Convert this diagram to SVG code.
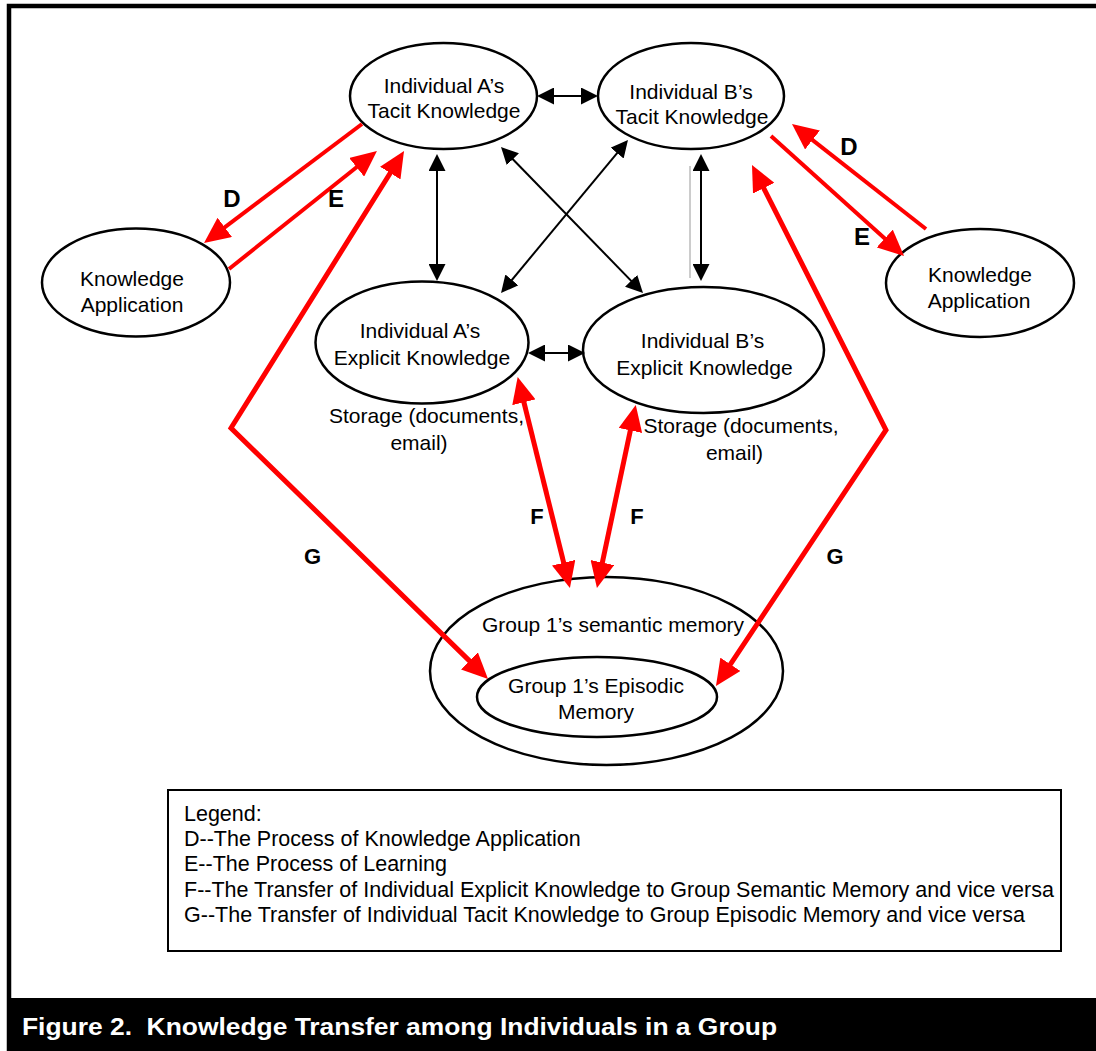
<svg xmlns="http://www.w3.org/2000/svg" width="1096" height="1051" viewBox="0 0 1096 1051">
<style>
  text { font-family: "Liberation Sans", Arial, sans-serif; fill: #000; }
  .node ellipse { fill: none; stroke: #000; stroke-width: 2.5; }
  .nt { font-size: 21px; text-anchor: middle; }
  .blk { stroke: #000; stroke-width: 2; fill: none; marker-start: url(#ab); marker-end: url(#ab); }
  .red { stroke: #ff0000; fill: none; stroke-linejoin: miter; }
  .thin { stroke-width: 4; }
  .thick { stroke-width: 5; }
  .lbl { font-size: 24px; font-weight: bold; text-anchor: middle; }
  .lbl2 { font-size: 22px; font-weight: bold; text-anchor: middle; }
  .leg { font-size: 21.5px; }
</style>
<defs>
  <marker id="ab" markerUnits="userSpaceOnUse" markerWidth="17" markerHeight="17" viewBox="0 0 17 17" refX="13" refY="8.5" orient="auto-start-reverse">
    <path d="M0,0 L17,8.5 L0,17 z" fill="#000"/>
  </marker>
  <marker id="ar" markerUnits="userSpaceOnUse" markerWidth="26" markerHeight="24" viewBox="0 0 26 24" refX="18" refY="12" orient="auto-start-reverse">
    <path d="M0,0 L26,12 L0,24 z" fill="#ff0000"/>
  </marker>
</defs>

<rect x="0" y="0" width="1096" height="1051" fill="#fff"/>
<path d="M9,1051 V6 H1100" fill="none" stroke="#000" stroke-width="4.5"/>

<g id="a-tacit" class="node">
  <ellipse cx="443.5" cy="96" rx="93.5" ry="53"/>
  <text class="nt" x="444" y="93">Individual A’s</text>
  <text class="nt" x="444" y="118">Tacit Knowledge</text>
</g>
<g id="b-tacit" class="node">
  <ellipse cx="691" cy="96" rx="93" ry="53"/>
  <text class="nt" x="691" y="99">Individual B’s</text>
  <text class="nt" x="692" y="124">Tacit Knowledge</text>
</g>
<g id="ka-left" class="node">
  <ellipse cx="136" cy="282.5" rx="94" ry="54"/>
  <text class="nt" x="132" y="286">Knowledge</text>
  <text class="nt" x="132" y="312">Application</text>
</g>
<g id="ka-right" class="node">
  <ellipse cx="980" cy="283" rx="94" ry="54"/>
  <text class="nt" x="980" y="282">Knowledge</text>
  <text class="nt" x="979" y="308">Application</text>
</g>
<g id="a-explicit" class="node">
  <ellipse cx="422" cy="342.5" rx="106.5" ry="61"/>
  <text class="nt" x="420" y="338">Individual A’s</text>
  <text class="nt" x="422" y="365">Explicit Knowledge</text>
  <text class="nt" x="426.5" y="423">Storage (documents,</text>
  <text class="nt" x="419" y="450">email)</text>
</g>
<g id="b-explicit" class="node">
  <ellipse cx="703.5" cy="350" rx="120.5" ry="63"/>
  <text class="nt" x="702.5" y="348">Individual B’s</text>
  <text class="nt" x="704.5" y="375">Explicit Knowledge</text>
  <text class="nt" x="741" y="433">Storage (documents,</text>
  <text class="nt" x="734.5" y="460">email)</text>
</g>
<g id="group-semantic" class="node">
  <ellipse cx="606.5" cy="671" rx="176.5" ry="94"/>
  <text class="nt" x="613" y="632">Group 1’s semantic memory</text>
</g>
<g id="group-episodic" class="node">
  <ellipse cx="597" cy="697" rx="120" ry="40"/>
  <text class="nt" x="596" y="693">Group 1’s Episodic</text>
  <text class="nt" x="596" y="719">Memory</text>
</g>

<g id="connectors">
  <!-- black double arrows -->
  <line class="blk" x1="541" y1="96" x2="594" y2="96"/>
  <line class="blk" x1="437" y1="158" x2="437" y2="277"/>
  <line class="blk" x1="701" y1="158" x2="701" y2="277"/>
  <line x1="690" y1="166" x2="690" y2="278" stroke="#999" stroke-width="1"/>
  <line class="blk" x1="532" y1="353" x2="581" y2="353"/>
  <line class="blk" x1="503.8" y1="149.9" x2="640.2" y2="290.1"/>
  <line class="blk" x1="625.4" y1="143.1" x2="503.6" y2="289.9"/>
  <!-- red D/E -->
  <line class="red thin" x1="362" y1="124" x2="210.4" y2="238.2" marker-end="url(#ar)"/>
  <line class="red thin" x1="229" y1="269" x2="370.7" y2="156" marker-end="url(#ar)"/>
  <line class="red thin" x1="926" y1="229" x2="798.3" y2="128.9" marker-end="url(#ar)"/>
  <line class="red thin" x1="771" y1="136" x2="898.1" y2="250.6" marker-end="url(#ar)"/>
  <!-- red F -->
  <line class="red thick" x1="519.6" y1="384.8" x2="568" y2="580.2" marker-start="url(#ar)" marker-end="url(#ar)"/>
  <line class="red thick" x1="634.1" y1="412.8" x2="598.6" y2="580.2" marker-start="url(#ar)" marker-end="url(#ar)"/>
  <!-- red G -->
  <polyline class="red thick" points="399.8,157.8 231,428 482.3,673.4" marker-start="url(#ar)" marker-end="url(#ar)"/>
  <polyline class="red thick" points="755.6,172.1 886,430 720.4,679.3" marker-start="url(#ar)" marker-end="url(#ar)"/>
  <!-- labels -->
  <text class="lbl" x="232" y="207">D</text>
  <text class="lbl" x="336" y="207">E</text>
  <text class="lbl" x="849" y="154.5">D</text>
  <text class="lbl" x="862" y="245">E</text>
  <text class="lbl2" x="537" y="524">F</text>
  <text class="lbl2" x="637" y="524">F</text>
  <text class="lbl2" x="312.5" y="564">G</text>
  <text class="lbl2" x="835" y="564">G</text>
</g>

<g id="legend">
  <rect x="168" y="790" width="893" height="161" fill="#fff" stroke="#000" stroke-width="2"/>
  <text class="leg" x="184" y="821">Legend:</text>
  <text class="leg" x="184" y="846">D--The Process of Knowledge Application</text>
  <text class="leg" x="184" y="871">E--The Process of Learning</text>
  <text class="leg" x="184" y="897">F--The Transfer of Individual Explicit Knowledge to Group Semantic Memory and vice versa</text>
  <text class="leg" x="184" y="922">G--The Transfer of Individual Tacit Knowledge to Group Episodic Memory and vice versa</text>
</g>

<g id="caption">
  <rect x="7" y="998" width="1089" height="53" fill="#000"/>
  <text x="22" y="1035" font-size="24" font-weight="bold" style="fill:#fff" textLength="755" lengthAdjust="spacingAndGlyphs">Figure 2.&#160; Knowledge Transfer among Individuals in a Group</text>
</g>
</svg>
